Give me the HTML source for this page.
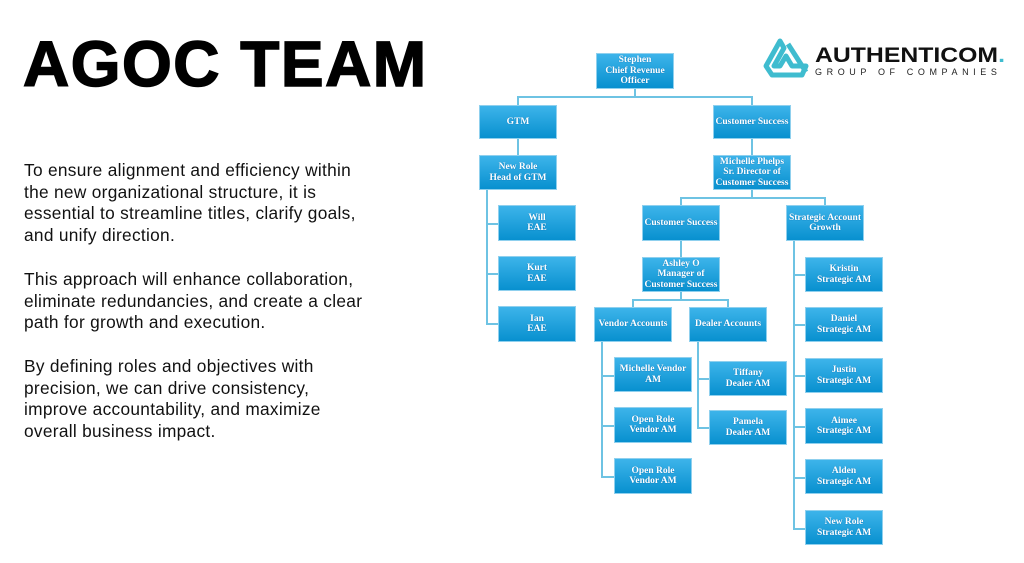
<!DOCTYPE html>
<html><head><meta charset="utf-8"><style>
body{margin:0;width:1024px;height:563px;background:#fff;position:relative;overflow:hidden;font-family:"Liberation Sans",sans-serif}
.t{position:absolute;left:23px;top:24px;font-size:64px;font-weight:bold;letter-spacing:1.5px;color:#000;line-height:80px;-webkit-text-stroke:1.5px #000}
.p{position:absolute;left:24px;font-size:17.3px;letter-spacing:0.3px;line-height:21.7px;color:#111}
.b{position:absolute;width:78px;box-sizing:border-box;border:1px solid #8fd0ee;background:linear-gradient(#3db4ea,#0890cf);color:#fff;font-size:9.5px;font-weight:bold;font-family:"Liberation Serif",serif;text-align:center;display:flex;align-items:center;justify-content:center;line-height:10.5px;white-space:nowrap;text-shadow:0 0 1px #06a}
.l{position:absolute;background:#6ec3e3}
</style></head><body>
<div class="t">AGOC TEAM</div>
<div class="p" style="top:160px">To ensure alignment and efficiency within<br>the new organizational structure, it is<br>essential to streamline titles, clarify goals,<br>and unify direction.</div>
<div class="p" style="top:269px">This approach will enhance collaboration,<br>eliminate redundancies, and create a clear<br>path for growth and execution.</div>
<div class="p" style="top:356px">By defining roles and objectives with<br>precision, we can drive consistency,<br>improve accountability, and maximize<br>overall business impact.</div>

<svg style="position:absolute;left:762px;top:37px" width="48" height="44" viewBox="0 0 48 44"><path d="M18 4 L4 29 L10 38 L40 38 L44 29 L30 29 L24 19 L18 29 L12 29 L22 11 Z M26 7 L44 35" fill="none" stroke="#3fbccf" stroke-width="5" stroke-linejoin="round"/></svg>
<div style="position:absolute;left:815px;top:44px;font-size:21px;font-weight:bold;color:#111;transform:scaleX(1.18);transform-origin:left">AUTHENTICOM<span style="color:#3fbccf">.</span></div>
<div style="position:absolute;left:815px;top:67px;font-size:9px;color:#222;letter-spacing:4.6px">GROUP OF COMPANIES</div>

<!-- lines -->
<div class="l" style="left:634px;top:89px;width:2px;height:8px"></div>
<div class="l" style="left:517px;top:96px;width:236px;height:2px"></div>
<div class="l" style="left:517px;top:96px;width:2px;height:10px"></div>
<div class="l" style="left:751px;top:96px;width:2px;height:10px"></div>
<div class="l" style="left:517px;top:139px;width:2px;height:17px"></div>
<div class="l" style="left:751px;top:139px;width:2px;height:17px"></div>
<div class="l" style="left:486px;top:190px;width:2px;height:135px"></div>
<div class="l" style="left:486px;top:223px;width:13px;height:2px"></div>
<div class="l" style="left:486px;top:273px;width:13px;height:2px"></div>
<div class="l" style="left:486px;top:323px;width:13px;height:2px"></div>
<div class="l" style="left:751px;top:190px;width:2px;height:8px"></div>
<div class="l" style="left:680px;top:197px;width:146px;height:2px"></div>
<div class="l" style="left:680px;top:197px;width:2px;height:9px"></div>
<div class="l" style="left:824px;top:197px;width:2px;height:9px"></div>
<div class="l" style="left:680px;top:241px;width:2px;height:17px"></div>
<div class="l" style="left:680px;top:292px;width:2px;height:8px"></div>
<div class="l" style="left:632px;top:299px;width:96px;height:2px"></div>
<div class="l" style="left:632px;top:299px;width:2px;height:9px"></div>
<div class="l" style="left:727px;top:299px;width:2px;height:9px"></div>
<div class="l" style="left:601px;top:342px;width:2px;height:135px"></div>
<div class="l" style="left:601px;top:375px;width:14px;height:2px"></div>
<div class="l" style="left:601px;top:425px;width:14px;height:2px"></div>
<div class="l" style="left:601px;top:476px;width:14px;height:2px"></div>
<div class="l" style="left:697px;top:342px;width:2px;height:87px"></div>
<div class="l" style="left:697px;top:378px;width:13px;height:2px"></div>
<div class="l" style="left:697px;top:427px;width:13px;height:2px"></div>
<div class="l" style="left:793px;top:241px;width:2px;height:289px"></div>
<div class="l" style="left:793px;top:274px;width:13px;height:2px"></div>
<div class="l" style="left:793px;top:324px;width:13px;height:2px"></div>
<div class="l" style="left:793px;top:375px;width:13px;height:2px"></div>
<div class="l" style="left:793px;top:426px;width:13px;height:2px"></div>
<div class="l" style="left:793px;top:477px;width:13px;height:2px"></div>
<div class="l" style="left:793px;top:528px;width:13px;height:2px"></div>

<!-- boxes -->
<div class="b" style="left:596px;top:53px;height:36px">Stephen<br>Chief Revenue<br>Officer</div>
<div class="b" style="left:479px;top:105px;height:34px">GTM</div>
<div class="b" style="left:713px;top:105px;height:34px">Customer Success</div>
<div class="b" style="left:479px;top:155px;height:35px">New Role<br>Head of GTM</div>
<div class="b" style="left:713px;top:155px;height:35px">Michelle Phelps<br>Sr. Director of<br>Customer Success</div>
<div class="b" style="left:498px;top:205px;height:36px">Will<br>EAE</div>
<div class="b" style="left:498px;top:256px;height:35px">Kurt<br>EAE</div>
<div class="b" style="left:498px;top:306px;height:36px">Ian<br>EAE</div>
<div class="b" style="left:642px;top:205px;height:36px">Customer Success</div>
<div class="b" style="left:786px;top:205px;height:36px">Strategic Account<br>Growth</div>
<div class="b" style="left:642px;top:257px;height:35px">Ashley O<br>Manager of<br>Customer Success</div>
<div class="b" style="left:594px;top:307px;height:35px">Vendor Accounts</div>
<div class="b" style="left:689px;top:307px;height:35px">Dealer Accounts</div>
<div class="b" style="left:614px;top:357px;height:35px">Michelle Vendor<br>AM</div>
<div class="b" style="left:614px;top:407px;height:36px">Open Role<br>Vendor AM</div>
<div class="b" style="left:614px;top:458px;height:36px">Open Role<br>Vendor AM</div>
<div class="b" style="left:709px;top:361px;height:35px">Tiffany<br>Dealer AM</div>
<div class="b" style="left:709px;top:410px;height:35px">Pamela<br>Dealer AM</div>
<div class="b" style="left:805px;top:257px;height:35px">Kristin<br>Strategic AM</div>
<div class="b" style="left:805px;top:307px;height:35px">Daniel<br>Strategic AM</div>
<div class="b" style="left:805px;top:358px;height:35px">Justin<br>Strategic AM</div>
<div class="b" style="left:805px;top:408px;height:36px">Aimee<br>Strategic AM</div>
<div class="b" style="left:805px;top:459px;height:35px">Alden<br>Strategic AM</div>
<div class="b" style="left:805px;top:510px;height:35px">New Role<br>Strategic AM</div>
</body></html>
